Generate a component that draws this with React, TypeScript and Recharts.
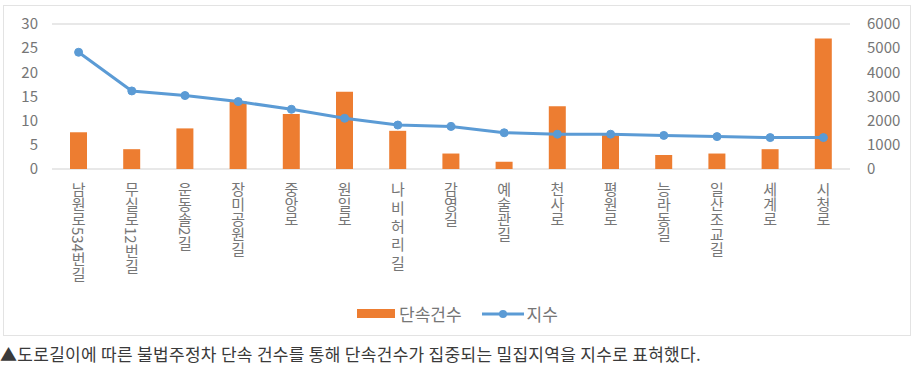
import { Bar, CartesianGrid, ComposedChart, Legend, Line, XAxis, YAxis } from "recharts";

const roads = [
  "남원로534번길",
  "무실로12번길",
  "운동솔2길",
  "장미공원길",
  "중앙로",
  "원일로",
  "나 비 허 리 길",
  "감영길",
  "예술관길",
  "천사로",
  "평원로",
  "능라동길",
  "일산조교길",
  "세계로",
  "시청로",
];
const counts = [7.6, 4.1, 8.4, 14, 11.4, 16, 7.9, 3.2, 1.5, 13, 7, 2.9, 3.2, 4.1, 27];
const indexValues = [4830, 3230, 3040, 2790, 2470, 2100, 1820, 1760, 1500, 1440, 1440, 1390, 1340, 1300, 1300];
const leftTicks = [0, 5, 10, 15, 20, 25, 30];
const rightTicks = [0, 1000, 2000, 3000, 4000, 5000, 6000];

const data = roads.map((name, i) => ({ name, count: counts[i], idx: indexValues[i] }));

const FONT = '"Noto Sans CJK KR", "Noto Sans", sans-serif';
const ORANGE = "#ed7d31";
const BLUE = "#5b9bd5";
const GREY = "#767676";

function RoadTick({ x, y, payload }: any) {
  return (
    <text
      x={x}
      y={y + 5}
      fill={GREY}
      fontSize={15}
      fontFamily={FONT}
      textAnchor="start"
      style={{ writingMode: "vertical-rl" }}
    >
      {payload.value}
    </text>
  );
}

function LegendBox() {
  return (
    <div style={{ display: "flex", alignItems: "center", fontFamily: FONT, fontSize: 17, color: GREY }}>
      <svg width={38} height={10}>
        <rect x={0} y={0} width={38} height={9} fill={ORANGE} />
      </svg>
      <span style={{ marginLeft: 4 }}>단속건수</span>
      <svg width={42} height={10} style={{ marginLeft: 20 }}>
        <line x1={0} y1={5} x2={42} y2={5} stroke={BLUE} strokeWidth={3} />
        <circle cx={21} cy={5} r={4} fill={BLUE} />
      </svg>
      <span style={{ marginLeft: 3 }}>지수</span>
    </div>
  );
}

export default function App() {
  return (
    <div style={{ position: "absolute", left: 0, top: 0, width: 913, height: 366, background: "#fff", overflow: "hidden" }}>
      <div
        style={{
          position: "absolute",
          left: 3,
          top: 5,
          width: 906,
          height: 329,
          border: "1px solid #e3e3e3",
        }}
      />
      <div style={{ position: "absolute", left: 0, top: 0 }}>
        <ComposedChart
          width={913}
          height={335}
          data={data}
          margin={{ top: 24, right: 0, bottom: 46, left: 0 }}
          barCategoryGap={0}
        >
          <CartesianGrid vertical={false} stroke="#e0e0e0" strokeWidth={1.5} />
          <XAxis
            dataKey="name"
            interval={0}
            tickLine={false}
            axisLine={false}
            height={120}
            tick={<RoadTick />}
          />
          <YAxis
            yAxisId="left"
            domain={[0, 30]}
            ticks={leftTicks}
            width={52}
            tickLine={false}
            axisLine={false}
            tickMargin={8}
            tick={{ fontSize: 15, fill: GREY, fontFamily: FONT }}
          />
          <YAxis
            yAxisId="right"
            orientation="right"
            domain={[0, 6000]}
            ticks={rightTicks}
            width={63}
            tickLine={false}
            axisLine={false}
            tickMargin={11}
            tick={{ fontSize: 15, fill: GREY, fontFamily: FONT, textAnchor: "start" }}
          />
          <Legend
            verticalAlign="middle"
            align="center"
            content={<LegendBox />}
            wrapperStyle={{ position: "absolute", top: 301, left: 357, width: "auto" }}
          />
          <Bar yAxisId="left" dataKey="count" name="단속건수" fill={ORANGE} barSize={17} isAnimationActive={false} />
          <Line
            yAxisId="right"
            dataKey="idx"
            name="지수"
            type="linear"
            stroke={BLUE}
            strokeWidth={3}
            dot={{ r: 4, fill: BLUE, stroke: BLUE, strokeWidth: 1 }}
            isAnimationActive={false}
          />
        </ComposedChart>
      </div>
      <div
        style={{
          position: "absolute",
          left: 0,
          top: 344,
          fontFamily: FONT,
          fontSize: 17,
          letterSpacing: 0.3,
          color: "#3a3a3a",
          whiteSpace: "nowrap",
          lineHeight: "19px",
        }}
      >
        ▲도로길이에 따른 불법주정차 단속 건수를 통해 단속건수가 집중되는 밀집지역을 지수로 표혀했다.
      </div>
    </div>
  );
}
